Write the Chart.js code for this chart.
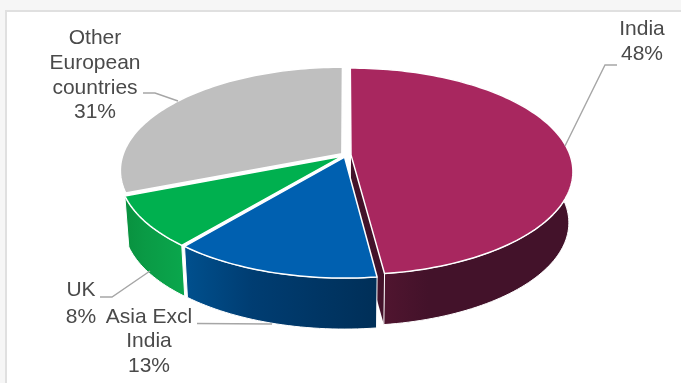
<!DOCTYPE html>
<html>
<head>
<meta charset="utf-8">
<title>Share by region</title>
<script src="https://cdn.jsdelivr.net/npm/chart.js@4/dist/chart.umd.min.js"></script>
<style>
    html, body { margin: 0; padding: 0; background: #f6f6f6; overflow: hidden; }
    #frame { position: absolute; left: 5px; top: 10px; width: 690px; height: 390px; background: #fff; border: 2px solid #e0e0e0; }
    #share-chart { position: absolute; left: 0; top: 0; }
</style>
</head>
<body>
<div id="frame"></div>
<canvas id="share-chart" width="681" height="383"></canvas>
<script>
const categories = ['India', 'Asia Excl India', 'UK', 'Other European countries'];
const shares = [48, 13, 8, 31];
const labelLines = [['India'], ['Asia Excl', 'India'], ['UK'], ['Other', 'European', 'countries']];

const topColors = ['#A8275F', '#0060B0', '#00B04F', '#BFBFBF'];
const sideColors = [
    ['#5A1733', '#43122A', '#43122A'],
    ['#00508E', '#003D72', '#002F58'],
    ['#09913F', '#0A9A45', '#0AA64C']
];

// tilted disc: p bends the far edge inwards, squash flattens the circle
const TILT = { p: 0.16, squash: 0.46, depth: 51, shrink: 0.982 };
const TEXT_FONT = '21px "Liberation Sans", Arial, sans-serif';
const LINE_HEIGHT = 24.7;

const labelBoxes = [
    { x: 642, y: 29.5 },
    { x: 149, y: 317 },
    { x: 81, y: 290, gap: 27 },
    { x: 95, y: 38.5 }
];
const leaderPaths = [
    [[565, 146], [605, 65], [617, 65]],
    [[197, 323.5], [272, 324]],
    [[100, 297], [112, 297], [150, 271]],
    [[143, 93], [155, 93], [178, 101]]
];

const project = (arc, angle, radius, lower) => {
    const mid = (arc.startAngle + arc.endAngle) / 2;
    const offset = arc.options.offset / arc.outerRadius;
    const u = radius * Math.cos(angle) + offset * Math.cos(mid);
    const v = -radius * Math.sin(angle) - offset * Math.sin(mid);
    const w = 1 + TILT.p * v;
    const x = arc.outerRadius * u / w;
    const y = -arc.outerRadius * TILT.squash * v / w;
    if (lower) return [arc.x + x * TILT.shrink, arc.y + y + TILT.depth];
    return [arc.x + x, arc.y + y];
};

const rimPoints = (arc, lower) => {
    const pts = [];
    const steps = Math.ceil((arc.endAngle - arc.startAngle) * 40);
    for (let i = 0; i <= steps; i++) {
        const a = arc.startAngle + (arc.endAngle - arc.startAngle) * i / steps;
        pts.push(project(arc, a, 1, lower));
    }
    return pts;
};

const tracePath = (ctx, pts) => {
    ctx.beginPath();
    pts.forEach(([x, y], i) => (i ? ctx.lineTo(x, y) : ctx.moveTo(x, y)));
    ctx.closePath();
};

const pie3dPlugin = {
    id: 'pie3d',
    // the arcs keep their angles from the controller, only the painting is replaced
    beforeDatasetDraw(chart, args) {
        const ctx = chart.ctx;
        const arcs = args.meta.data;
        ctx.save();
        ctx.lineJoin = 'round';
        ctx.strokeStyle = '#fff';

        // cut face of a slice that ends right of the centre, towards the viewer
        arcs.forEach((arc, i) => {
            const u = Math.cos(arc.endAngle);
            const v = -Math.sin(arc.endAngle);
            if (u <= 0 || v >= 0) return;
            tracePath(ctx, [
                project(arc, arc.endAngle, 0, false),
                project(arc, arc.endAngle, 1, false),
                project(arc, arc.endAngle, 1, true),
                project(arc, arc.endAngle, 0, true)
            ]);
            ctx.fillStyle = sideColors[i][1];
            ctx.fill();
        });

        // outer walls, the last slice sits at the back and shows none
        [0, 2, 1].forEach((i) => {
            const arc = arcs[i];
            const top = rimPoints(arc, false);
            const bottom = rimPoints(arc, true).reverse();
            const xs = top.map((p) => p[0]);
            const grad = ctx.createLinearGradient(Math.min(...xs), 0, Math.max(...xs), 0);
            grad.addColorStop(0, sideColors[i][0]);
            grad.addColorStop(0.35, sideColors[i][1]);
            grad.addColorStop(1, sideColors[i][2]);
            tracePath(ctx, top.concat(bottom));
            ctx.fillStyle = grad;
            ctx.fill();
            ctx.lineWidth = 1;
            ctx.stroke();
        });

        // top faces
        arcs.forEach((arc, i) => {
            tracePath(ctx, [project(arc, arc.startAngle, 0, false)].concat(rimPoints(arc, false)));
            ctx.fillStyle = topColors[i];
            ctx.fill();
            ctx.lineWidth = 1.5;
            ctx.stroke();
        });
        ctx.restore();
        return false;
    },
    afterDraw(chart) {
        const ctx = chart.ctx;
        ctx.save();
        ctx.strokeStyle = '#A6A6A6';
        ctx.lineWidth = 1.4;
        leaderPaths.forEach((path) => {
            ctx.beginPath();
            path.forEach(([x, y], i) => (i ? ctx.lineTo(x, y) : ctx.moveTo(x, y)));
            ctx.stroke();
        });

        ctx.fillStyle = '#4A4A4A';
        ctx.font = TEXT_FONT;
        ctx.textAlign = 'center';
        ctx.textBaseline = 'middle';
        labelBoxes.forEach((box, i) => {
            const lines = [...labelLines[i], `${shares[i]}%`];
            lines.forEach((line, n) => {
                const step = box.gap || LINE_HEIGHT;
                ctx.fillText(line, box.x, box.y + n * step);
            });
        });
        ctx.restore();
    }
};

new Chart(document.getElementById('share-chart'), {
    type: 'pie',
    data: {
        labels: categories,
        datasets: [{
            data: shares,
            backgroundColor: topColors,
            radius: 219,
            offset: 5,
            borderWidth: 0
        }]
    },
    options: {
        responsive: false,
        animation: false,
        events: [],
        layout: { padding: { left: 11, bottom: 73 } },
        plugins: {
            legend: { display: false },
            tooltip: { enabled: false }
        }
    },
    plugins: [pie3dPlugin]
});
</script>
</body>
</html>
